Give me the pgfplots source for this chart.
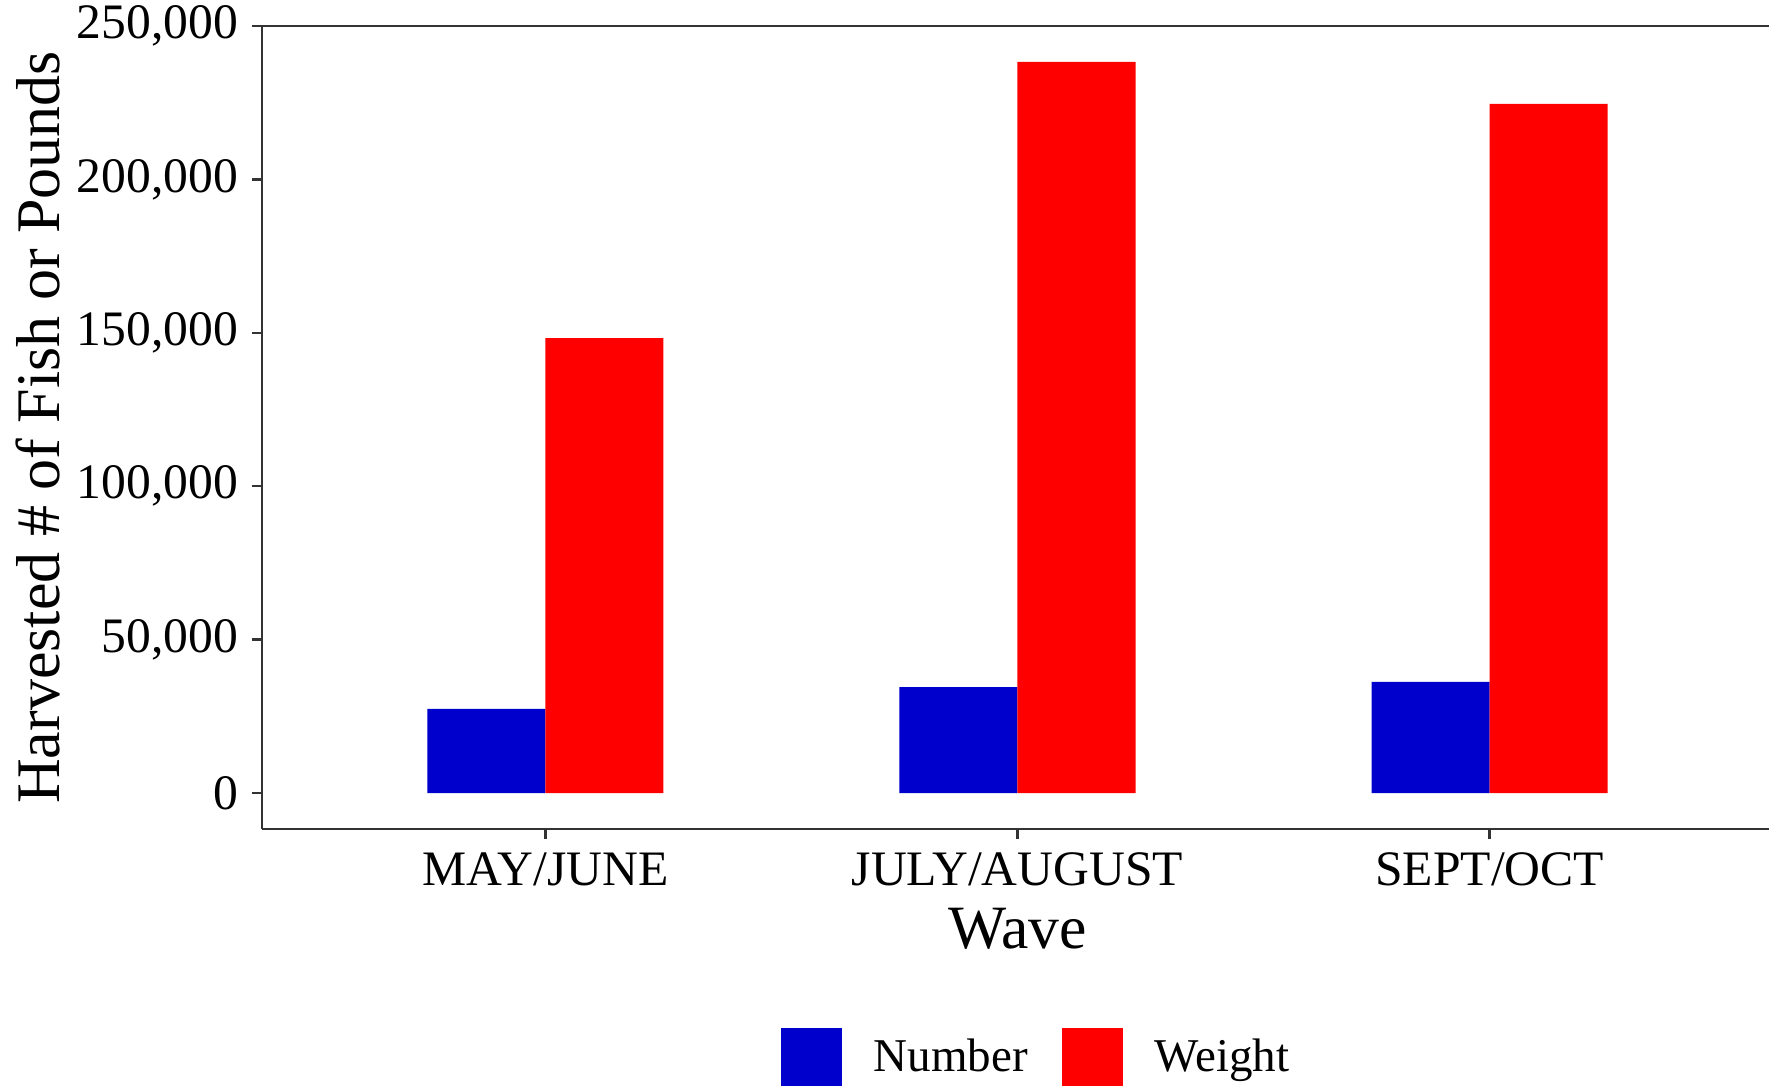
\documentclass[border=0pt]{standalone}
\usepackage{fontspec}
\setmainfont{Liberation Serif}
\usepackage{pgfplots}
\pgfplotsset{compat=1.18}
\definecolor{numblue}{RGB}{0,0,204}
\definecolor{wtred}{RGB}{255,0,0}
\definecolor{axisgray}{RGB}{51,51,51}
\pgfplotsset{sqlegend/.style={legend image code/.code={\fill[##1] (0pt,-7.625pt) rectangle (15.25pt,7.625pt);}}}

\begin{document}
\begin{tikzpicture}
% page frame, the reference is cut at the right and at the bottom
\useasboundingbox (-65.5pt,-64pt) rectangle (376.75pt,207.25pt);
\begin{axis}[
  at={(0pt,0pt)}, anchor=south west,
  scale only axis, width=377.75pt, height=200.75pt,
  xmin=0.4, xmax=3.6, ymin=-11734, ymax=250000,
  axis x line*=box, axis y line*=left,
  axis line style={axisgray, line width=0.6pt},
  xtick pos=bottom, ytick pos=left,
  tick align=outside, major tick length=2.5pt,
  tick style={axisgray, line width=0.6pt},
  xtick={1,2,3},
  xticklabels={MAY/JUNE, JULY/AUGUST, SEPT/OCT},
  ytick={0,50000,100000,150000,200000,250000},
  scaled y ticks=false,
  yticklabel style={/pgf/number format/.cd, fixed, 1000 sep={,}},
  /pgf/number format/assume math mode=true,
  ticklabel style={font=\fontsize{12.4}{14}\selectfont},
  xlabel={Wave},
  ylabel={Harvested \# of Fish or Pounds},
  xlabel style={font=\fontsize{15.4}{17}\selectfont, at={(axis description cs:0.5,0)}, anchor=base, yshift=-29.75pt},
  ylabel style={font=\fontsize{15.5}{17}\selectfont, at={(axis description cs:-0.1337,0.5)}, anchor=base},
  legend columns=2,
  legend style={draw=none, fill=none, at={(axis description cs:0.3428,-0.2466)}, anchor=north west,
    inner sep=0pt, nodes={inner sep=0pt, font=\fontsize{11.75}{13}\selectfont},
    column sep=8pt, /tikz/every even column/.append style={column sep=8.5pt}},
]
\addplot[ybar, bar width=0.25, bar shift=-0.125, fill=numblue, draw=none, sqlegend]
  coordinates {(1,27400) (2,34550) (3,36200)};
\addlegendentry{Number}
\addplot[ybar, bar width=0.25, bar shift=0.125, fill=wtred, draw=none, sqlegend]
  coordinates {(1,148300) (2,238300) (3,224600)};
\addlegendentry{Weight}
\end{axis}
\end{tikzpicture}
\end{document}
